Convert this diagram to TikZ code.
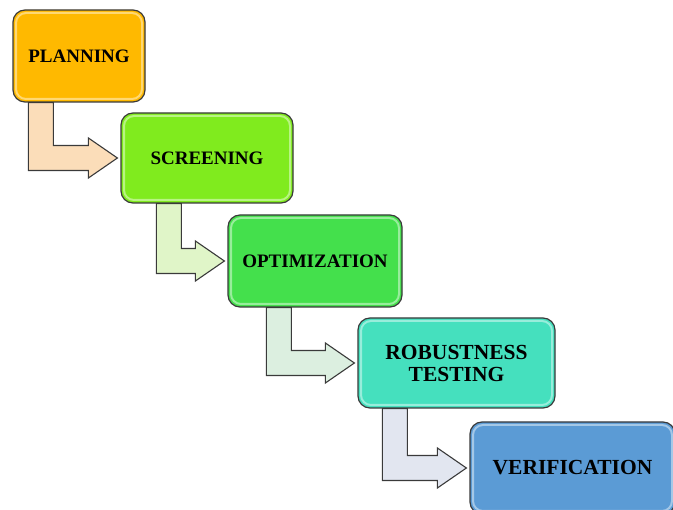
\documentclass[tikz,border=0pt]{standalone}
\usepackage{fontspec}
\setmainfont{Liberation Serif}
\usetikzlibrary{calc,backgrounds}

\definecolor{planfill}{HTML}{FFB900}
\definecolor{screenfill}{HTML}{80EB1E}
\definecolor{optimfill}{HTML}{44E04C}
\definecolor{robustfill}{HTML}{45E0BE}
\definecolor{veriffill}{HTML}{5B9BD5}
\definecolor{bordo}{HTML}{3A3A3A}
\definecolor{frecciaA}{HTML}{FBDDB9}
\definecolor{frecciaB}{HTML}{E0F5C8}
\definecolor{frecciaC}{HTML}{DCEFE0}
\definecolor{frecciaD}{HTML}{E2E6F0}

\tikzset{
  fase/.style={draw=bordo, line width=1.2pt, rounded corners=12pt,
    font=\fontsize{19}{22}\selectfont\bfseries, text=black, align=center,
    path picture={\draw[white,opacity=0.45,line width=2pt,rounded corners=10pt]
      ([shift={(3pt,-3pt)}]path picture bounding box.north west) rectangle
      ([shift={(-3pt,3pt)}]path picture bounding box.south east);}},
  fasegrande/.style={fase, font=\fontsize{21.5}{22}\selectfont\bfseries},
  freccia/.style={draw=bordo, line width=1.1pt, line join=miter}
}

% freccia a gomito: #1 partenza, #2 arrivo, #3 scostamento, #4 colore
\newcommand{\gomito}[4]{
  \path let \p1 = ($(#1.south west)+(#3,0)$), \p2 = (#2.west) in
    [freccia, fill=#4] (\x1,\y1) -- (\x1,\y2-12.5) -- (\x2-32,\y2-12.5)
    -- (\x2-32,\y2-20) -- (\x2-3,\y2) -- (\x2-32,\y2+20) -- (\x2-32,\y2+12.5)
    -- (\x1+25,\y2+12.5) -- (\x1+25,\y1) -- cycle;
}

\begin{document}
\begin{tikzpicture}[x=1pt,y=-1pt]

        \clip (0,0) rectangle (673,510);

        % Disegna le fasi
        \node[fase, fill=planfill, minimum width=132, minimum height=92] (plan) at (79,56) {PLANNING};
        \node[fase, fill=screenfill, minimum width=172, minimum height=90] (screen) at (207,158) {SCREENING};
        \node[fase, fill=optimfill, minimum width=174, minimum height=92] (optim) at (315,261) {OPTIMIZATION};
        \node[fasegrande, fill=robustfill, minimum width=197, minimum height=90] (robust) at (456.5,363) {ROBUSTNESS\\TESTING};
        \node[fasegrande, fill=veriffill, minimum width=205, minimum height=92] (verif) at (572.5,468) {VERIFICATION};

        % Disegna le frecce a gomito dietro le fasi
        \begin{pgfonlayer}{background}
          \gomito{plan}{screen}{16}{frecciaA}
          \gomito{screen}{optim}{36}{frecciaB}
          \gomito{optim}{robust}{39}{frecciaC}
          \gomito{robust}{verif}{25}{frecciaD}
        \end{pgfonlayer}

        \end{tikzpicture}
\end{document}
